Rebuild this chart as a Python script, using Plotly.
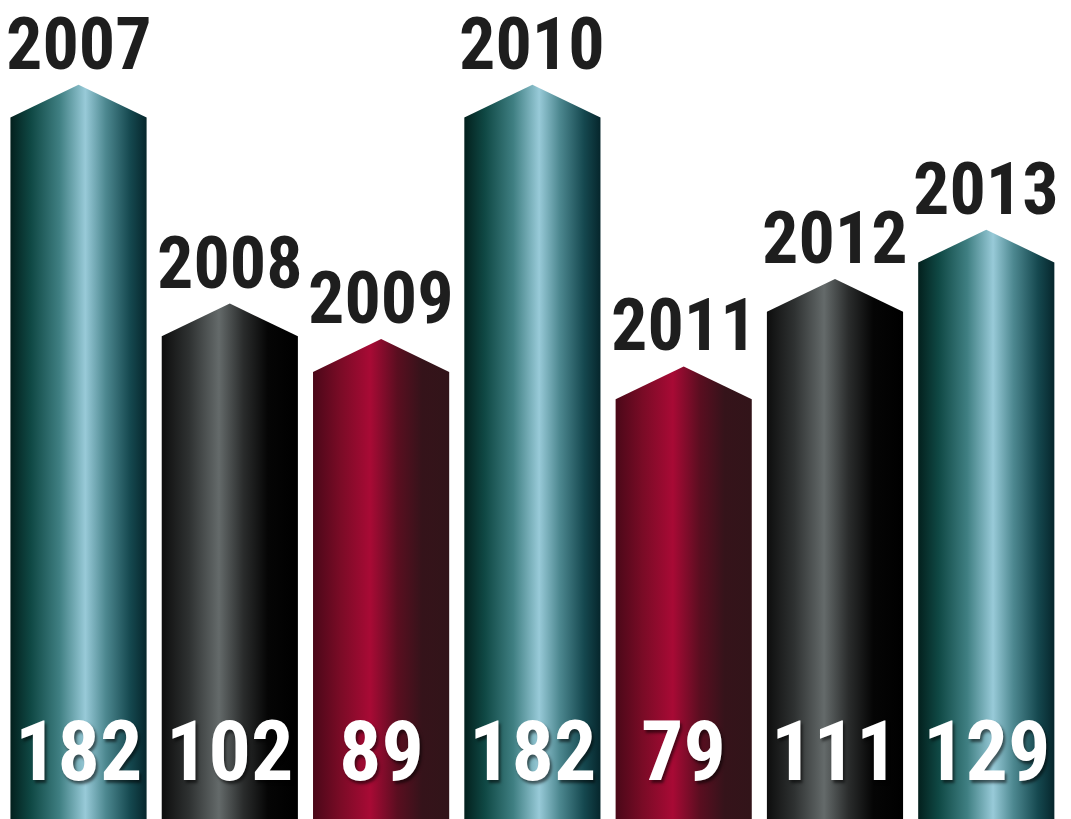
import plotly.graph_objects as go

years = ["2007", "2008", "2009", "2010", "2011", "2012", "2013"]
values = [182, 102, 89, 182, 79, 111, 129]
styles = ["teal", "gray", "red", "teal", "red", "gray", "teal"]

gradients = {
    "teal": [[0, "#03201d"], [0.15, "#0f4844"], [0.36, "#3f7f82"], [0.55, "#98cad8"],
             [0.7, "#4d8890"], [0.88, "#15484f"], [1, "#06262c"]],
    "gray": [[0, "#0d0d0d"], [0.2, "#2e3131"], [0.42, "#646a6a"], [0.6, "#2a2c2c"],
             [0.78, "#050505"], [1, "#000000"]],
    "red": [[0, "#4a0818"], [0.2, "#7a0b26"], [0.42, "#a80a35"], [0.62, "#5a0e20"],
            [0.8, "#35131a"], [1, "#321419"]],
}

BASE = -74.5      # axis floor (bars start here)
TOP = 225.0
HALF = 0.45       # half bar width in category units
TIP = 12.0        # arrow tip height in value units

FONT = "Roboto Condensed, Open Sans Condensed, sans-serif"

fig = go.Figure()
for i, (yr, v, st) in enumerate(zip(years, values, styles)):
    xs = [i - HALF, i - HALF, i, i + HALF, i + HALF, i - HALF]
    ys = [BASE - 10, v, v + TIP, v, BASE - 10, BASE - 10]
    fig.add_trace(go.Scatter(
        x=xs, y=ys, mode="lines", fill="toself",
        line=dict(width=0, color="rgba(0,0,0,0)"),
        fillgradient=dict(type="horizontal", colorscale=gradients[st]),
        hoverinfo="skip", showlegend=False,
    ))
    fig.add_annotation(x=i, y=v + TIP, text=yr, showarrow=False,
                       xanchor="center", yanchor="bottom", yshift=-4,
                       font=dict(family=FONT, size=72, color="#1e1e1e", weight="bold"))
    fig.add_annotation(x=i, y=BASE, text=str(v), showarrow=False,
                       xanchor="center", yanchor="bottom", yshift=16,
                       font=dict(family=FONT, size=84, color="white", weight="bold",
                                 shadow="2px 3px 3px rgba(0,0,0,0.55)"))

fig.update_layout(
    width=1071, height=819,
    margin=dict(l=0, r=0, t=0, b=0),
    paper_bgcolor="white", plot_bgcolor="white",
    xaxis=dict(range=[-0.519, 6.56], visible=False, fixedrange=True),
    yaxis=dict(range=[BASE, TOP], visible=False, fixedrange=True),
)

fig.write_html("out.html", config={"displayModeBar": False},
               post_script="document.body.style.margin='0';")
